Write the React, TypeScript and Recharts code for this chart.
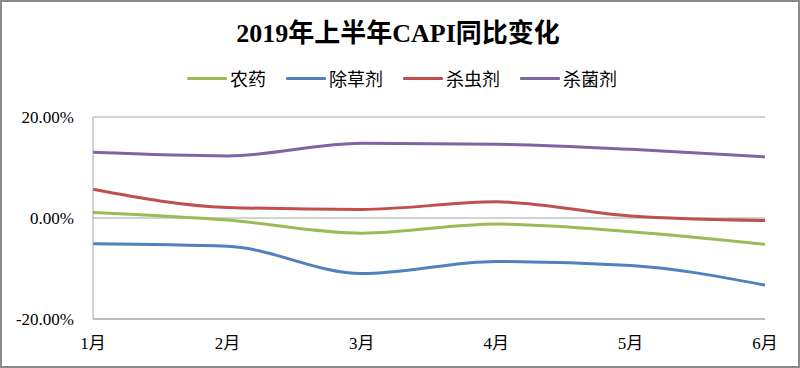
import React from 'react';
import { LineChart, Line, XAxis, YAxis, CartesianGrid } from 'recharts';

const months = ['1月', '2月', '3月', '4月', '5月', '6月'];
const pesticide = [1.1, -0.4, -3.0, -1.2, -2.7, -5.2];
const herbicide = [-5.1, -5.6, -11.0, -8.6, -9.4, -13.3];
const insecticide = [5.7, 2.1, 1.7, 3.2, 0.4, -0.5];
const fungicide = [13.0, 12.3, 14.8, 14.6, 13.6, 12.1];
const yTicks = [-20, 0, 20];

const series = [
  { key: 'p', name: '农药', color: '#9BBB59', values: pesticide },
  { key: 'h', name: '除草剂', color: '#4F81BD', values: herbicide },
  { key: 'i', name: '杀虫剂', color: '#C0504D', values: insecticide },
  { key: 'f', name: '杀菌剂', color: '#8064A2', values: fungicide },
];

const data = months.map((m, i) => {
  const row: Record<string, string | number> = { month: m };
  series.forEach((s) => {
    row[s.key] = s.values[i];
  });
  return row;
});

const tickFont = { fontFamily: '"Liberation Serif", "Noto Sans CJK SC", serif', fontSize: 17, fill: '#000' };

export default function App() {
  return (
    <div style={{ position: 'absolute', left: 0, top: 0, width: 800, height: 368, background: '#fff' }}>
      <div
        style={{
          position: 'absolute',
          left: 0,
          top: 18,
          width: 800,
          textAlign: 'center',
          paddingLeft: 0,
          fontFamily: '"Liberation Serif", "Noto Sans CJK SC", serif',
          fontWeight: 'bold',
          fontSize: 26,
          lineHeight: '32px',
          color: '#000',
          transform: 'translateX(-2px)',
        }}
      >
        2019年上半年CAPI同比变化
      </div>
      <div
        style={{
          position: 'absolute',
          left: 0,
          top: 66,
          width: 800,
          display: 'flex',
          justifyContent: 'center',
          gap: 20,
          paddingLeft: 4,
          boxSizing: 'border-box',
          fontFamily: '"Noto Sans CJK SC", sans-serif',
          fontSize: 18,
          lineHeight: '24px',
          color: '#000',
        }}
      >
        {series.map((s) => (
          <div key={s.key} style={{ display: 'flex', alignItems: 'center' }}>
            <div style={{ width: 40, height: 3, background: s.color, marginRight: 3, borderRadius: 1 }} />
            <span>{s.name}</span>
          </div>
        ))}
      </div>
      <div style={{ position: 'absolute', left: 0, top: 0 }}>
        <LineChart width={800} height={368} data={data} margin={{ top: 117, right: 35, left: 0, bottom: 19 }}>
          <CartesianGrid vertical={false} stroke="#a6a6a6" strokeWidth={1} />
          <XAxis
            dataKey="month"
            height={30}
            tickLine={false}
            axisLine={{ stroke: '#a6a6a6' }}
            tick={tickFont}
            tickMargin={12}
            interval={0}
          />
          <YAxis
            width={93}
            domain={[-20, 20]}
            ticks={yTicks}
            tickFormatter={(v: number) => v.toFixed(2) + '%'}
            tickLine={false}
            axisLine={{ stroke: '#a6a6a6' }}
            tick={tickFont}
            tickMargin={13}
          />
          {series.map((s) => (
            <Line
              key={s.key}
              type="monotone"
              dataKey={s.key}
              name={s.name}
              stroke={s.color}
              strokeWidth={3}
              dot={false}
              activeDot={false}
              isAnimationActive={false}
            />
          ))}
        </LineChart>
      </div>
      <div
        style={{
          position: 'absolute',
          left: 0,
          top: 0,
          width: 800,
          height: 368,
          boxSizing: 'border-box',
          border: '2px solid #8a8a8a',
          pointerEvents: 'none',
        }}
      />
    </div>
  );
}
